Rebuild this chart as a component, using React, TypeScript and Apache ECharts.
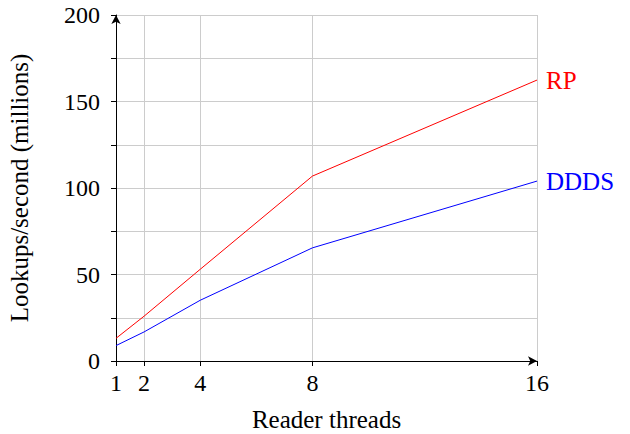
import React, { useEffect, useRef } from "react";
import * as echarts from "echarts";

const threads = [1, 2, 4, 8, 16];
const rpValues = [13.1, 25.9, 53, 106.9, 162.4];
const dddsValues = [8.9, 16.8, 35.1, 65.4, 104];
const xTicks = [1, 2, 4, 8, 16];
const seriesNames = ["RP", "DDDS"];

const FONT = "'Liberation Serif', 'Times New Roman', serif";

export default function App() {
  const ref = useRef<HTMLDivElement>(null);
  useEffect(() => {
    if (!ref.current) return;
    const chart = echarts.init(ref.current, undefined, { renderer: "svg" });
    const mk = (vals: number[]) => threads.map((t, i) => [t, vals[i]]);
    chart.setOption({
      animation: false,
      textStyle: { fontFamily: FONT },
      grid: { left: 116, right: 93, top: 15, bottom: 73, containLabel: false, outerBoundsMode: "none" },
      xAxis: {
        type: "value",
        min: 1,
        max: 16,
        name: "Reader threads",
        nameLocation: "middle",
        nameGap: 46,
        nameTextStyle: { fontFamily: FONT, fontSize: 25, color: "#000" },
        axisLine: {
          show: true,
          lineStyle: { color: "#000", width: 1 },
          symbol: ["none", "arrow"],
          symbolSize: [7, 9],
        },
        axisTick: { show: true, customValues: xTicks, length: 5, lineStyle: { color: "#000" } },
        axisLabel: {
          customValues: xTicks,
          fontFamily: FONT,
          fontSize: 24,
          color: "#000",
          margin: 10,
        },
        splitLine: { show: true, lineStyle: { color: "#cccccc", width: 1 } },
      },
      yAxis: {
        type: "value",
        min: 0,
        max: 200,
        interval: 50,
        name: "Lookups/second (millions)",
        nameLocation: "middle",
        nameRotate: 90,
        nameGap: 84,
        nameTextStyle: { fontFamily: FONT, fontSize: 25, color: "#000" },
        axisLine: {
          show: true,
          lineStyle: { color: "#000", width: 1 },
          symbol: ["none", "arrow"],
          symbolSize: [7, 9],
        },
        axisTick: { show: true, length: 5, lineStyle: { color: "#000" } },
        minorTick: { show: true, splitNumber: 2, length: 5, lineStyle: { color: "#000" } },
        axisLabel: {
          fontFamily: FONT,
          fontSize: 24,
          color: "#000",
          margin: 16,
        },
        splitLine: { show: true, lineStyle: { color: "#cccccc", width: 1 } },
        minorSplitLine: { show: true, lineStyle: { color: "#cccccc", width: 1 } },
      },
      series: [
        {
          name: seriesNames[0],
          type: "line",
          data: mk(rpValues),
          showSymbol: false,
          symbol: "none",
          lineStyle: { color: "#ff0000", width: 1 },
          itemStyle: { color: "#ff0000" },
          endLabel: {
            show: true,
            formatter: seriesNames[0],
            color: "#ff0000",
            fontFamily: FONT,
            fontSize: 25,
            distance: 9,
          },
          z: 3,
        },
        {
          name: seriesNames[1],
          type: "line",
          data: mk(dddsValues),
          showSymbol: false,
          symbol: "none",
          lineStyle: { color: "#0000ff", width: 1 },
          itemStyle: { color: "#0000ff" },
          endLabel: {
            show: true,
            formatter: seriesNames[1],
            color: "#0000ff",
            fontFamily: FONT,
            fontSize: 25,
            distance: 9,
          },
          z: 3,
        },
      ],
    });
    return () => chart.dispose();
  }, []);
  return <div ref={ref} style={{ width: 630, height: 434, position: "absolute", left: 0, top: 0 }} />;
}
